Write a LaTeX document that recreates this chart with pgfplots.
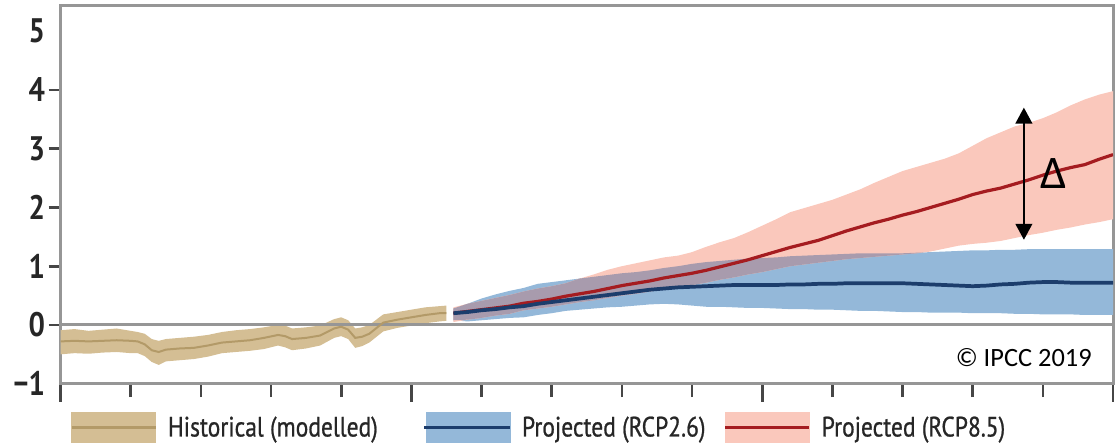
\documentclass[border=0pt]{standalone}
\usepackage{fontspec}
\usepackage{pgfplots}
\pgfplotsset{compat=1.18}
\usepackage{pgfplotstable}
\usepgfplotslibrary{fillbetween}
\usetikzlibrary{arrows.meta}

\newfontfamily\tickfont[FakeStretch=0.85]{PT Sans}
\newfontfamily\legfont[FakeStretch=0.84, FakeBold=0.8]{PT Sans}
\newfontfamily\calfont{Carlito}

\definecolor{axisgray}{HTML}{969696}
\definecolor{tickdark}{HTML}{464646}
\definecolor{labeldark}{HTML}{262626}
\definecolor{histband}{HTML}{D4BE94}
\definecolor{histline}{HTML}{B39A68}
\definecolor{lowband}{HTML}{94B8D9}
\definecolor{lowline}{HTML}{1C3D6C}
\definecolor{highband}{HTML}{FAC8BC}
\definecolor{highline}{HTML}{A51C20}
\definecolor{bothband}{HTML}{A89BAD}

% historical (modelled): year, mean, lower, upper
\pgfplotstableread{
year mid lo hi
1950 -0.28 -0.50 -0.09
1952 -0.27 -0.48 -0.07
1954 -0.28 -0.49 -0.10
1956 -0.27 -0.47 -0.08
1958 -0.26 -0.46 -0.06
1960 -0.27 -0.48 -0.10
1961 -0.28 -0.48 -0.12
1962 -0.33 -0.53 -0.15
1963 -0.43 -0.63 -0.24
1964 -0.46 -0.68 -0.27
1965 -0.42 -0.62 -0.24
1967 -0.40 -0.60 -0.22
1969 -0.39 -0.58 -0.20
1971 -0.35 -0.54 -0.17
1973 -0.30 -0.48 -0.12
1975 -0.28 -0.46 -0.09
1977 -0.26 -0.44 -0.07
1979 -0.22 -0.41 -0.04
1981 -0.17 -0.35 0.00
1982 -0.19 -0.38 -0.01
1983 -0.24 -0.43 -0.06
1985 -0.22 -0.40 -0.04
1987 -0.18 -0.35 -0.01
1989 -0.06 -0.22 0.10
1990 -0.03 -0.19 0.13
1991 -0.08 -0.24 0.08
1992 -0.22 -0.39 -0.06
1993 -0.20 -0.36 -0.04
1994 -0.15 -0.30 0.00
1996 0.04 -0.11 0.18
1998 0.09 -0.05 0.22
2000 0.13 -0.01 0.26
2002 0.17 0.03 0.30
2004 0.20 0.06 0.32
2005 0.20 0.07 0.33
}\histdata

% projected, RCP2.6
\pgfplotstableread{
year mid lo hi
2006 0.20 0.08 0.28
2008 0.22 0.06 0.36
2010 0.25 0.08 0.45
2012 0.27 0.10 0.52
2014 0.30 0.12 0.58
2016 0.32 0.13 0.63
2018 0.36 0.17 0.70
2020 0.39 0.20 0.73
2022 0.42 0.24 0.76
2024 0.45 0.26 0.79
2026 0.48 0.28 0.82
2028 0.51 0.30 0.85
2030 0.54 0.31 0.88
2032 0.57 0.33 0.90
2034 0.60 0.35 0.93
2036 0.62 0.36 0.97
2038 0.64 0.35 1.00
2040 0.65 0.33 1.04
2042 0.66 0.31 1.07
2044 0.67 0.31 1.09
2046 0.68 0.30 1.11
2048 0.68 0.29 1.13
2050 0.68 0.29 1.14
2052 0.68 0.28 1.15
2054 0.69 0.27 1.17
2056 0.69 0.27 1.18
2058 0.70 0.26 1.19
2060 0.70 0.26 1.20
2062 0.71 0.25 1.21
2064 0.71 0.24 1.22
2066 0.71 0.24 1.22
2068 0.71 0.23 1.22
2070 0.71 0.22 1.22
2072 0.70 0.22 1.23
2074 0.69 0.21 1.24
2076 0.68 0.21 1.25
2078 0.67 0.21 1.26
2080 0.66 0.20 1.27
2082 0.67 0.20 1.27
2084 0.69 0.20 1.28
2086 0.70 0.19 1.28
2088 0.72 0.19 1.29
2090 0.73 0.18 1.29
2092 0.73 0.18 1.29
2094 0.72 0.18 1.29
2096 0.72 0.17 1.29
2098 0.72 0.17 1.29
2100 0.72 0.17 1.29
}\lowdata

% projected, RCP8.5
\pgfplotstableread{
year mid lo hi
2006 0.20 0.05 0.30
2008 0.23 0.09 0.36
2010 0.26 0.12 0.41
2012 0.29 0.16 0.46
2014 0.32 0.19 0.51
2016 0.37 0.25 0.57
2018 0.40 0.28 0.62
2020 0.44 0.31 0.66
2022 0.49 0.35 0.71
2024 0.53 0.39 0.79
2026 0.57 0.42 0.86
2028 0.62 0.46 0.94
2030 0.67 0.50 1.00
2032 0.71 0.53 1.05
2034 0.75 0.57 1.10
2036 0.80 0.61 1.15
2038 0.84 0.64 1.18
2040 0.88 0.68 1.24
2042 0.93 0.72 1.33
2044 0.99 0.77 1.41
2046 1.05 0.81 1.48
2048 1.11 0.86 1.58
2050 1.18 0.90 1.69
2052 1.25 0.95 1.80
2054 1.32 1.00 1.92
2056 1.38 1.03 1.99
2058 1.44 1.06 2.06
2060 1.52 1.09 2.13
2062 1.60 1.12 2.22
2064 1.67 1.14 2.31
2066 1.74 1.16 2.42
2068 1.80 1.18 2.52
2070 1.87 1.20 2.62
2072 1.93 1.22 2.69
2074 2.00 1.25 2.76
2076 2.07 1.30 2.83
2078 2.14 1.35 2.92
2080 2.22 1.38 3.05
2082 2.28 1.40 3.18
2084 2.33 1.43 3.28
2086 2.40 1.48 3.38
2088 2.47 1.53 3.44
2090 2.55 1.57 3.52
2092 2.62 1.62 3.62
2094 2.68 1.66 3.74
2096 2.73 1.71 3.84
2098 2.82 1.75 3.92
2100 2.90 1.80 3.98
}\highdata

% where the two projected ranges overlap
\pgfplotstableread{
year lo hi
2006 0.08 0.28
2008 0.09 0.36
2010 0.12 0.41
2012 0.16 0.46
2014 0.19 0.51
2016 0.25 0.57
2018 0.28 0.62
2020 0.31 0.66
2022 0.35 0.71
2024 0.39 0.79
2026 0.42 0.82
2028 0.46 0.85
2030 0.50 0.88
2032 0.53 0.90
2034 0.57 0.93
2036 0.61 0.97
2038 0.64 1.00
2040 0.68 1.04
2042 0.72 1.07
2044 0.77 1.09
2046 0.81 1.11
2048 0.86 1.13
2050 0.90 1.14
2052 0.95 1.15
2054 1.00 1.17
2056 1.03 1.18
2058 1.06 1.19
2060 1.09 1.20
2062 1.12 1.21
2064 1.14 1.22
2066 1.16 1.22
2068 1.18 1.22
2070 1.20 1.22
2072 1.22 1.23
2073 1.235 1.235
}\bothdata

\begin{document}
\begin{tikzpicture}
\begin{axis}[
  scale only axis,
  width=789.4pt, height=283.3pt,
  xmin=1950, xmax=2100, ymin=-1, ymax=5.43,
  axis line style={draw=axisgray, line width=2.25pt},
  tick align=outside,
  major tick length=10pt,
  xtick={1950,1960,...,2100},
  xticklabels={},
  xtick pos=bottom,
  xtick style={draw=tickdark, line width=2pt},
  extra x ticks={1950,2000,2050,2100},
  extra x tick labels={},
  extra x tick style={major tick length=13.5pt, xtick style={draw=tickdark, line width=2pt}},
  ytick={-1,0,...,5},
  yticklabels={−1,0,1,2,3,4,5},
  ytick pos=left,
  ytick style={draw=none},
  yticklabel style={font=\tickfont\bfseries\fontsize{25.5}{26}\selectfont, text=labeldark, inner sep=1.5pt},
  extra y ticks={0,1,2,3,4},
  extra y tick labels={},
  extra y tick style={major tick length=9pt, ytick style={draw=tickdark, line width=2pt}},
  legend columns=3,
  legend style={at={(0,0)}, anchor=north west, xshift=7.1pt, yshift=-21.2pt,
    draw=none, fill=none, inner sep=0pt, column sep=0pt,
    nodes={inner sep=0pt, anchor=west},
    font=\legfont\fontsize{21}{24}\selectfont, text=labeldark},
]
% legend entries
\addlegendimage{legend image code/.code={
  \fill[histband] (0pt,-11.25pt) rectangle (63pt,11.25pt);
  \draw[histline, line width=2.2pt] (0pt,0pt) -- (63pt,0pt);
  \path (72pt,0pt);}}
\addlegendentry{\makebox[191.25pt][l]{Historical (modelled)}}
\addlegendimage{legend image code/.code={
  \fill[lowband] (0pt,-11.25pt) rectangle (63pt,11.25pt);
  \draw[lowline, line width=2.2pt] (-1pt,0pt) -- (63pt,0pt);
  \path (72pt,0pt);}}
\addlegendentry{\makebox[151.5pt][l]{Projected (RCP2.6)}}
\addlegendimage{legend image code/.code={
  \fill[highband] (0pt,-11.25pt) rectangle (63pt,11.25pt);
  \draw[highline, line width=2.2pt] (0pt,0pt) -- (63pt,0pt);
  \path (72pt,0pt);}}
\addlegendentry{Projected (RCP8.5)}

% historical band and mean
\addplot[draw=none, name path=hhi, forget plot] table[x=year, y=hi] {\histdata};
\addplot[draw=none, name path=hlo, forget plot] table[x=year, y=lo] {\histdata};
\addplot[histband, forget plot] fill between[of=hhi and hlo];

% zero line
\addplot[axisgray, line width=2.25pt, forget plot] coordinates {(1950,0) (2100,0)};

\addplot[histline, line width=1.5pt, forget plot] table[x=year, y=mid] {\histdata};

% RCP2.6 band
\addplot[draw=none, name path=lhi, forget plot] table[x=year, y=hi] {\lowdata};
\addplot[draw=none, name path=llo, forget plot] table[x=year, y=lo] {\lowdata};
\addplot[lowband, forget plot] fill between[of=lhi and llo];

% RCP8.5 band
\addplot[draw=none, name path=rhi, forget plot] table[x=year, y=hi] {\highdata};
\addplot[draw=none, name path=rlo, forget plot] table[x=year, y=lo] {\highdata};
\addplot[highband, forget plot] fill between[of=rhi and rlo];

% overlap of both ranges
\addplot[draw=none, name path=bhi, forget plot] table[x=year, y=hi] {\bothdata};
\addplot[draw=none, name path=blo, forget plot] table[x=year, y=lo] {\bothdata};
\addplot[bothband, forget plot] fill between[of=bhi and blo];

% means
\addplot[highline, line width=2.4pt, forget plot] table[x=year, y=mid] {\highdata};
\addplot[lowline, line width=2.8pt, forget plot] table[x=year, y=mid] {\lowdata};

% spread between the scenarios
\addplot[black, line width=1.6pt, {Triangle[width=12.5pt,length=12pt]}-{Triangle[width=12.5pt,length=12pt]}, forget plot]
  coordinates {(2087.3,1.45) (2087.3,3.70)};
\node[anchor=base, inner sep=0pt, font=\calfont\fontsize{35}{36}\selectfont] at (axis cs:2091.6,2.33) {Δ};

\node[anchor=base east, inner sep=0pt, font=\calfont\fontsize{19.8}{22}\selectfont, text=black] at (axis cs:2097,-0.715) {© IPCC 2019};
\end{axis}
\pgfresetboundingbox
\useasboundingbox (-45.4pt,-46pt) rectangle (790.9pt,287.8pt);
\end{tikzpicture}
\end{document}
